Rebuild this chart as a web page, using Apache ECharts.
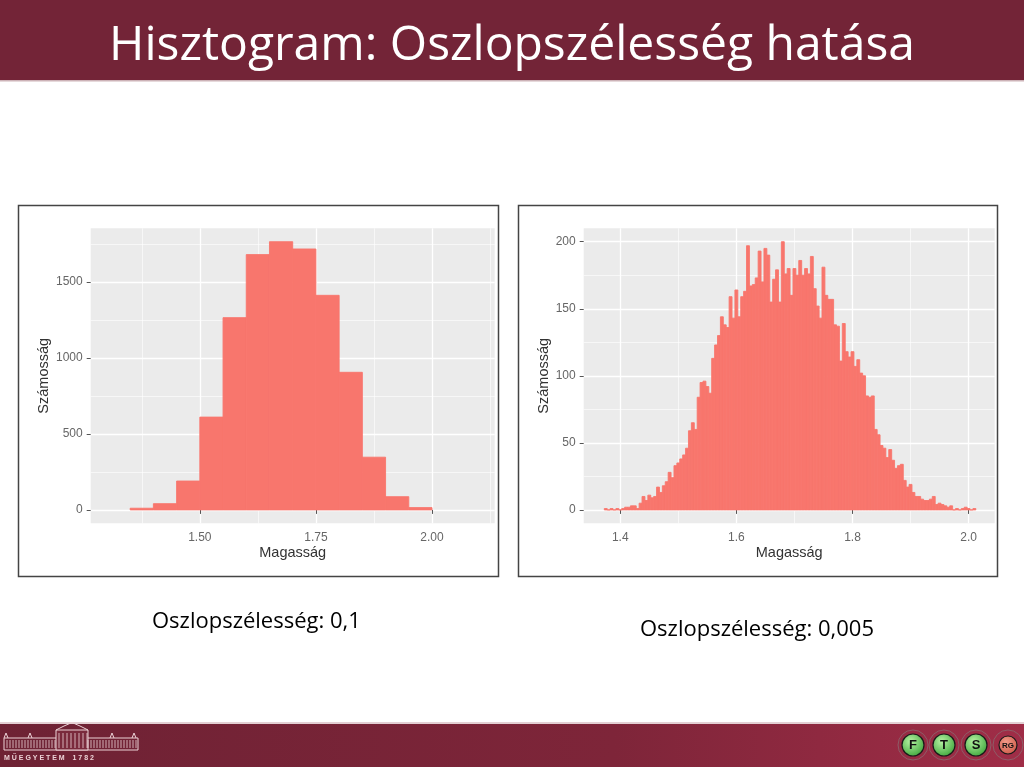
<!DOCTYPE html>
<html><head><meta charset="utf-8">
<script src="https://cdn.jsdelivr.net/npm/echarts@6/dist/echarts.min.js"></script>
<style>html,body{margin:0;padding:0;background:#fff}#c{width:1024px;height:767px}</style>
</head><body><div id="c"></div>
<script>
// ---- texts ----
const titleText = 'Hisztogram: Oszlopszélesség hatása';
const captionLeft = 'Oszlopszélesség: 0,1';
const captionRight = 'Oszlopszélesség: 0,005';
const xTitle = 'Magasság';
const yTitle = 'Számosság';

// ---- left histogram (wide bins) ----
const leftBinStart = 1.35;
const leftBinWidth = 0.05;
const leftCounts = [11, 41, 190, 611, 1266, 1681, 1766, 1718, 1413, 906, 347, 87, 15];
const leftXRange = [1.265, 2.135];
const leftYRange = [-88.3, 1854.3];
const leftXTicks = [1.50, 1.75, 2.00];
const leftXMinor = [1.375, 1.625, 1.875, 2.125];
const leftYTicks = [0, 500, 1000, 1500];
const leftYMinor = [250, 750, 1250, 1750];

// ---- right histogram (narrow bins) ----
const rightBinStart = 1.3725;
const rightBinWidth = 0.005;
const rightCounts = [
  1,0,1,0,1,0,1,2,2,3,
  3,1,5,10,7,11,9,10,17,13,
  18,21,28,24,33,35,38,41,46,59,
  65,60,84,95,96,92,87,113,123,130,
  144,138,136,159,143,164,144,159,163,197,
  167,168,173,193,170,195,190,155,172,179,
  155,200,176,180,160,180,175,186,175,180,
  176,189,165,152,143,181,160,157,157,138,
  137,111,139,118,114,118,107,112,102,100,
  85,84,85,60,56,48,46,39,45,37,
  31,33,34,22,17,19,13,10,10,8,
  7,7,8,10,4,5,4,3,2,3,
  0,1,0,1,2,1,0,1
];
const rightXRange = [1.337, 2.045];
const rightYRange = [-10, 210];
const rightXTicks = [1.4, 1.6, 1.8, 2.0];
const rightXMinor = [1.5, 1.7, 1.9];
const rightYTicks = [0, 50, 100, 150, 200];
const rightYMinor = [25, 75, 125, 175];

const barColor = '#F8766D';
const panelColor = '#EBEBEB';
const axisFont = 'Liberation Sans, Arial, sans-serif';

function binData(start, width, counts) {
  return counts.map((c, i) => [
    +(start + i * width).toFixed(5),
    +(start + (i + 1) * width).toFixed(5),
    c
  ]);
}

function renderHist(params, api) {
  const p0 = api.coord([api.value(0), api.value(2)]);
  const p1 = api.coord([api.value(1), 0]);
  return {
    type: 'rect',
    shape: { x: p0[0], y: p0[1], width: p1[0] - p0[0], height: p1[1] - p0[1] },
    style: { fill: barColor, stroke: barColor, lineWidth: 0.9 }
  };
}

function xAxes(gridIndex, range, ticks, minor, digits) {
  return [
    {
      type: 'value', gridIndex, min: range[0], max: range[1],
      name: xTitle, nameLocation: 'middle', nameGap: 22,
      nameTextStyle: { color: '#333', fontSize: 14.5, fontFamily: axisFont },
      axisLine: { show: false },
      axisTick: { show: true, length: 4, customValues: ticks, lineStyle: { color: '#555', width: 1 } },
      axisLabel: { customValues: ticks, formatter: v => v.toFixed(digits), color: '#666', fontSize: 12, margin: 8, fontFamily: axisFont },
      splitLine: { show: true, lineStyle: { color: '#fff', width: 1.3 } }
    },
    {
      type: 'value', gridIndex, min: range[0], max: range[1], position: 'top',
      axisLine: { show: false },
      axisTick: { show: false, customValues: minor },
      axisLabel: { show: false, customValues: minor },
      splitLine: { show: true, lineStyle: { color: '#fff', width: 0.6 } }
    }
  ];
}

function yAxes(gridIndex, range, ticks, minor, nameGap) {
  return [
    {
      type: 'value', gridIndex, min: range[0], max: range[1],
      name: yTitle, nameLocation: 'middle', nameGap, nameRotate: 90,
      nameTextStyle: { color: '#333', fontSize: 14.5, fontFamily: axisFont },
      axisLine: { show: false },
      axisTick: { show: true, length: 4, customValues: ticks, lineStyle: { color: '#555', width: 1 } },
      axisLabel: { customValues: ticks, formatter: v => String(Math.round(v)), color: '#666', fontSize: 12, margin: 8, fontFamily: axisFont },
      splitLine: { show: true, lineStyle: { color: '#fff', width: 1.3 } }
    },
    {
      type: 'value', gridIndex, min: range[0], max: range[1], position: 'right',
      axisLine: { show: false },
      axisTick: { show: false, customValues: minor },
      axisLabel: { show: false, customValues: minor },
      splitLine: { show: true, lineStyle: { color: '#fff', width: 0.6 } }
    }
  ];
}

// ---- decoration ----
const graphics = [];
graphics.push({ type: 'rect', z: -10, shape: { x: 0, y: 0, width: 1024, height: 80 }, style: { fill: '#732437' } });
graphics.push({ type: 'rect', z: -10, shape: { x: 0, y: 80, width: 1024, height: 1.5 }, style: { fill: '#cdb3b8' } });
graphics.push({ type: 'text', x: 512, y: 46, style: { text: titleText, fill: '#fff', font: '48px "Open Sans"', align: 'center', verticalAlign: 'middle' } });
graphics.push({ type: 'rect', z: -10, shape: { x: 18.5, y: 205.5, width: 480, height: 371 }, style: { fill: '#fff', stroke: '#444', lineWidth: 1.5 } });
graphics.push({ type: 'rect', z: -10, shape: { x: 518.5, y: 205.5, width: 479, height: 371 }, style: { fill: '#fff', stroke: '#444', lineWidth: 1.5 } });
graphics.push({ type: 'text', x: 152, y: 622, style: { text: captionLeft, fill: '#000', font: '22px "Open Sans"', align: 'left', verticalAlign: 'middle' } });
graphics.push({ type: 'text', x: 640, y: 630, style: { text: captionRight, fill: '#000', font: '22px "Open Sans"', align: 'left', verticalAlign: 'middle' } });
// bottom bar
graphics.push({ type: 'rect', z: -10, shape: { x: 0, y: 722, width: 1024, height: 2 }, style: { fill: '#e3cfd3' } });
graphics.push({ type: 'rect', z: -10, shape: { x: 0, y: 724, width: 1024, height: 43 },
  style: { fill: new echarts.graphic.LinearGradient(0, 0, 1, 0, [{ offset: 0, color: '#6e2234' }, { offset: 0.6, color: '#7e2539' }, { offset: 1, color: '#a02d47' }]) } });
// building logo
const bc = '#ecd2d6';
graphics.push({ type: 'rect', shape: { x: 4, y: 738, width: 134, height: 12 }, style: { fill: 'none', stroke: bc, lineWidth: 1 } });
graphics.push({ type: 'rect', shape: { x: 56, y: 730, width: 32, height: 20 }, style: { fill: '#7a2a3c', stroke: bc, lineWidth: 1 } });
graphics.push({ type: 'polyline', shape: { points: [[56, 730], [64, 726], [72, 722.5], [80, 726], [88, 730]] }, style: { fill: 'none', stroke: bc, lineWidth: 1 } });
[6, 30, 112, 134].forEach(x => graphics.push({ type: 'polyline', shape: { points: [[x - 2, 738], [x, 733], [x + 2, 738]] }, style: { fill: 'none', stroke: bc, lineWidth: 1 } }));
for (let x = 7; x < 137; x += 3) {
  if (x > 56 && x < 88) continue;
  graphics.push({ type: 'line', shape: { x1: x, y1: 740, x2: x, y2: 748 }, style: { stroke: bc, lineWidth: 0.8 } });
}
for (let x = 59; x < 88; x += 4) {
  graphics.push({ type: 'line', shape: { x1: x, y1: 733, x2: x, y2: 748 }, style: { stroke: bc, lineWidth: 0.8 } });
}
graphics.push({ type: 'text', x: 4, y: 758, style: { text: 'M Ű E G Y E T E M    1 7 8 2', fill: bc, font: 'bold 7px "Liberation Sans"', align: 'left', verticalAlign: 'middle' } });
// FTSRG logo
const logoCenters = [913, 944, 976, 1008];
const logoLetters = ['F', 'T', 'S', 'RG'];
logoCenters.forEach((cx, i) => {
  graphics.push({ type: 'circle', shape: { cx, cy: 745, r: 15 }, style: { fill: 'none', stroke: '#8a6a70', lineWidth: 0.8 } });
});
logoCenters.forEach((cx, i) => {
  const isRG = i === 3;
  graphics.push({ type: 'circle', shape: { cx, cy: 745, r: isRG ? 9 : 11 },
    style: { fill: new echarts.graphic.RadialGradient(0.4, 0.35, 0.8, isRG ? [{ offset: 0, color: '#f29a88' }, { offset: 1, color: '#c7503f' }] : [{ offset: 0, color: '#b6f2a3' }, { offset: 1, color: '#2a9a2a' }]),
      stroke: '#1a1a1a', lineWidth: 1.2 } });
  graphics.push({ type: 'text', x: cx, y: 745.5, style: { text: logoLetters[i], fill: '#111', font: isRG ? 'bold 8px "Liberation Sans"' : 'bold 13px "Liberation Sans"', align: 'center', verticalAlign: 'middle' } });
});

const chart = echarts.init(document.getElementById('c'), null, { renderer: 'canvas' });
chart.setOption({
  backgroundColor: '#fff',
  animation: false,
  grid: [
    { left: 90.7, top: 228.3, width: 404, height: 295, show: true, backgroundColor: panelColor, borderWidth: 0 },
    { left: 583.7, top: 228.3, width: 411, height: 295, show: true, backgroundColor: panelColor, borderWidth: 0 }
  ],
  xAxis: [].concat(
    xAxes(0, leftXRange, leftXTicks, leftXMinor, 2),
    xAxes(1, rightXRange, rightXTicks, rightXMinor, 1)
  ),
  yAxis: [].concat(
    yAxes(0, leftYRange, leftYTicks, leftYMinor, 39),
    yAxes(1, rightYRange, rightYTicks, rightYMinor, 32)
  ),
  series: [
    { type: 'custom', xAxisIndex: 0, yAxisIndex: 0, clip: true, renderItem: renderHist,
      encode: { x: [0, 1], y: 2 }, data: binData(leftBinStart, leftBinWidth, leftCounts) },
    { type: 'custom', xAxisIndex: 2, yAxisIndex: 2, clip: true, renderItem: renderHist,
      encode: { x: [0, 1], y: 2 }, data: binData(rightBinStart, rightBinWidth, rightCounts) }
  ],
  graphic: graphics
});
</script>
</body></html>
